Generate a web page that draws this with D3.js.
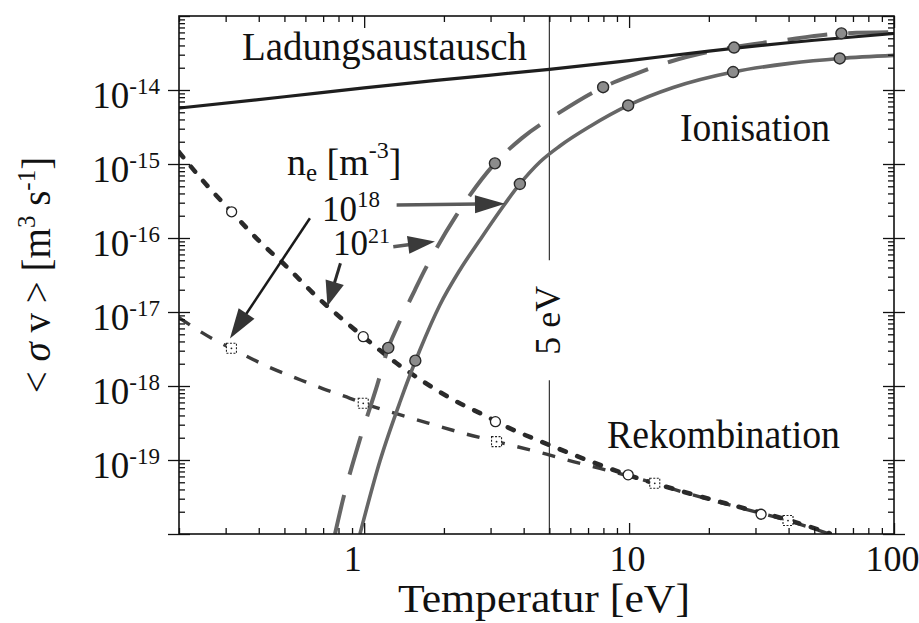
<!DOCTYPE html>
<html>
<head>
<meta charset="utf-8">
<script src="https://cdn.jsdelivr.net/npm/d3@7"></script>
<style>
	body { margin: 0; background: #fff; }
	svg { display: block; }
	svg text { font-family: "Liberation Serif", "LiberationSerif", "Tinos", "DejaVu Serif", "Times New Roman", "Nimbus Roman", "FreeSerif", "Noto Serif", serif; fill: #111; }
</style>
</head>
<body>
<div id="viz-holder"></div>
<script>
// Temperatur [eV] / <sigma v> [m^3 s^-1]
let cxT = [0.2, 0.5, 1, 2, 5, 10, 20, 50, 100];
let cxV = [5.7e-15, 8.1e-15, 1.07e-14, 1.38e-14, 1.9e-14, 2.5e-14, 3.35e-14, 4.7e-14, 5.8e-14];

// Ionisation, n_e = 1e18 (solid) and 1e21 (dashed)
let ion18T = [0.964, 1.147, 1.365, 1.623, 1.931, 2.298, 2.734, 3.253, 3.87, 4.606, 5.48, 7.11, 9.92, 14.67, 24.7, 40.4, 62.4, 100];
let ion18V = [1e-20, 9.7e-20, 6.08e-19, 3.06e-18, 1.245e-17, 3.7e-17, 9.4e-17, 2.32e-16, 5.37e-16, 1.064e-15, 1.75e-15, 3.21e-15, 6.18e-15, 1.08e-14, 1.75e-14, 2.29e-14, 2.67e-14, 2.94e-14];
let ion21T = [0.776, 0.834, 0.958, 1.12, 1.233, 1.326, 1.554, 1.681, 2.234, 3.115, 3.929, 5.40, 7.98, 10.36, 14.25, 23.3, 37.1, 64.2, 100];
let ion21V = [1e-20, 3.03e-20, 1.77e-19, 1.03e-18, 3.27e-18, 6.03e-18, 1.98e-17, 3.51e-17, 2.05e-16, 1.02e-15, 2.22e-15, 4.84e-15, 1.09e-14, 1.6e-14, 2.41e-14, 3.66e-14, 4.64e-14, 5.83e-14, 6.03e-14];

// Rekombination, n_e = 1e21 (circles) and 1e18 (squares)
let rec21T = [0.2, 0.2543, 0.316, 0.404, 0.51, 0.652, 0.834, 0.992, 1.326, 1.696, 2.17, 2.775, 3.55, 4.99, 6.43, 9.92, 16, 25.8, 39.8, 57.2];
let rec21V = [1.45e-15, 5.2e-16, 2.26e-16, 8.9e-17, 4.1e-17, 1.7e-17, 7.8e-18, 4.64e-18, 2.03e-18, 1.11e-18, 6.5e-19, 4.19e-19, 2.68e-19, 1.6e-19, 1.11e-19, 6.27e-20, 3.73e-20, 2.34e-20, 1.55e-20, 1.02e-20];
let rec18T = [0.2, 0.2694, 0.3155, 0.4285, 0.556, 0.7008, 0.884, 0.992, 1.445, 1.85, 2.365, 3.16, 4.88, 6.15, 7.76, 9.92, 12.5, 16, 25.8, 39.8, 57.2];
let rec18V = [8.4e-18, 4.3e-18, 3.23e-18, 1.86e-18, 1.27e-18, 9.16e-19, 6.82e-19, 5.84e-19, 3.85e-19, 2.97e-19, 2.3e-19, 1.77e-19, 1.2e-19, 9.5e-20, 7.7e-20, 6.1e-20, 4.84e-20, 3.68e-20, 2.3e-20, 1.52e-20, 1.0e-20];

// markers along the curves
let ion18MarkT = [1.56, 3.87, 9.92, 24.7, 62.4];
let ion18MarkV = [2.2e-18, 5.37e-16, 6.18e-15, 1.75e-14, 2.67e-14];
let ion21MarkT = [1.233, 3.115, 7.98, 24.9, 63.3];
let ion21MarkV = [3.27e-18, 1.02e-15, 1.09e-14, 3.75e-14, 5.83e-14];
let rec21MarkT = [0.316, 0.992, 3.13, 9.92, 31.5];
let rec21MarkV = [2.26e-16, 4.64e-18, 3.3e-19, 6.3e-20, 1.85e-20];
let rec18MarkT = [0.3155, 0.992, 3.16, 12.5, 39.8];
let rec18MarkV = [3.23e-18, 5.84e-19, 1.77e-19, 4.84e-20, 1.52e-20];

// axis labels
let xLabelTicks = [1, 10, 100];
let yLabelTicks = [1e-14, 1e-15, 1e-16, 1e-17, 1e-18, 1e-19];

// 5 eV marker line, gap in the line where the label sits
let lineT = 5;
let lineGap = [5e-17, 1.2e-18];

// density arrows: [T, v] start -> [T, v] tip
let arrows = [
	{ from: [1.326, 2.79e-16], to: [3.40, 2.9e-16], line: '#5a5a5a', head: '#3a3a3a', lw: 3.5, hl: 30, hw: 9 },
	{ from: [1.288, 7.62e-17], to: [1.85, 9.0e-17], line: '#5a5a5a', head: '#3a3a3a', lw: 3.5, hl: 27, hw: 9 },
	{ from: [0.8136, 4.55e-17], to: [0.7267, 1.2e-17], line: '#2a2a2a', head: '#3a3a3a', lw: 3, hl: 25, hw: 9.5 },
	{ from: [0.624, 1.85e-16], to: [0.3114, 4.4e-18], line: '#1a1a1a', head: '#333', lw: 2.5, hl: 30, hw: 9.5 }
];

let width = 919, height = 623;

let svg = d3.select('#viz-holder')
	.append('svg')
	.attr('width', width)
	.attr('height', height)
	.style('background', '#fff');

let x = d3.scaleLog().domain([0.2, 100]).range([179, 894]);
let y = d3.scaleLog().domain([1e-20, 1e-13]).range([534, 16]);

let x0 = x.range()[0], x1 = x.range()[1];
let yTop = y.range()[1], yBot = y.range()[0];

svg.append('clipPath').attr('id', 'plotClip')
	.append('rect')
	.attr('x', x0).attr('y', yTop)
	.attr('width', x1 - x0).attr('height', yBot - yTop);

function pairs(T, V) { return T.map((t, i) => [t, V[i]]); }

let line = d3.line()
	.x(d => x(d[0]))
	.y(d => y(d[1]))
	.curve(d3.curveMonotoneX);

// 5 eV line
let vline = svg.append('g').attr('stroke', '#222').attr('stroke-width', 1.1);
vline.append('line')
	.attr('x1', x(lineT)).attr('x2', x(lineT))
	.attr('y1', yTop).attr('y2', y(lineGap[0]));
vline.append('line')
	.attr('x1', x(lineT)).attr('x2', x(lineT))
	.attr('y1', y(lineGap[1])).attr('y2', yBot);

let curves = svg.append('g').attr('clip-path', 'url(#plotClip)').attr('fill', 'none');

curves.append('path')
	.attr('d', line(pairs(rec18T, rec18V)))
	.attr('stroke', '#3c3c3c')
	.attr('stroke-width', 3.4)
	.attr('stroke-dasharray', '13,13');

curves.append('path')
	.attr('d', line(pairs(rec21T, rec21V)))
	.attr('stroke', '#2a2a2a')
	.attr('stroke-width', 4.6)
	.attr('stroke-linecap', 'round')
	.attr('stroke-dasharray', '6.5,12.3');

curves.append('path')
	.attr('d', line(pairs(ion21T, ion21V)))
	.attr('stroke', '#666')
	.attr('stroke-width', 4)
	.attr('stroke-dasharray', '40,21');

curves.append('path')
	.attr('d', line(pairs(ion18T, ion18V)))
	.attr('stroke', '#666')
	.attr('stroke-width', 3.6);

curves.append('path')
	.attr('d', line(pairs(cxT, cxV)))
	.attr('stroke', '#1e1e1e')
	.attr('stroke-width', 3.2);

// markers
let marks = svg.append('g');

marks.selectAll('.ionMark')
	.data(pairs(ion18MarkT, ion18MarkV).concat(pairs(ion21MarkT, ion21MarkV)))
	.enter()
	.append('circle')
	.attr('class', 'ionMark')
	.attr('cx', d => x(d[0]))
	.attr('cy', d => y(d[1]))
	.attr('r', 5.5)
	.attr('fill', '#8c8c8c')
	.attr('stroke', '#2a2a2a')
	.attr('stroke-width', 1.4);

marks.selectAll('.recCircle')
	.data(pairs(rec21MarkT, rec21MarkV))
	.enter()
	.append('circle')
	.attr('class', 'recCircle')
	.attr('cx', d => x(d[0]))
	.attr('cy', d => y(d[1]))
	.attr('r', 5)
	.attr('fill', '#fff')
	.attr('stroke', '#222')
	.attr('stroke-width', 1.3);

let sq = marks.selectAll('.recSquare')
	.data(pairs(rec18MarkT, rec18MarkV))
	.enter()
	.append('g')
	.attr('class', 'recSquare')
	.attr('transform', d => `translate(${x(d[0])},${y(d[1])})`);
sq.append('rect')
	.attr('x', -5).attr('y', -5).attr('width', 10).attr('height', 10)
	.attr('fill', '#fff')
	.attr('stroke', '#222')
	.attr('stroke-width', 1.1)
	.attr('stroke-dasharray', '2,1.5');
sq.append('circle').attr('r', 0.9).attr('fill', '#222');

// arrows
let arrowG = svg.append('g');
arrows.forEach(a => {
	let ax0 = x(a.from[0]), ay0 = y(a.from[1]);
	let ax1 = x(a.to[0]), ay1 = y(a.to[1]);
	let ang = Math.atan2(ay1 - ay0, ax1 - ax0);
	let bx = ax1 - a.hl * Math.cos(ang), by = ay1 - a.hl * Math.sin(ang);
	arrowG.append('line')
		.attr('x1', ax0).attr('y1', ay0)
		.attr('x2', bx + 4 * Math.cos(ang)).attr('y2', by + 4 * Math.sin(ang))
		.attr('stroke', a.line)
		.attr('stroke-width', a.lw);
	arrowG.append('path')
		.attr('d', `M${ax1},${ay1}L${bx + a.hw * Math.sin(ang)},${by - a.hw * Math.cos(ang)}L${bx - a.hw * Math.sin(ang)},${by + a.hw * Math.cos(ang)}Z`)
		.attr('fill', a.head);
});

// axes
function tickStyle(g) {
	g.select('.domain').remove();
	g.selectAll('.tick line').attr('stroke', '#111').attr('stroke-width', 1.3);
	g.selectAll('.tick text').remove();
}

let xMajor = xLabelTicks;
let xMinor = x.ticks().filter(d => !xMajor.includes(d));
let yAll = y.ticks();
let yMajor = yAll.filter(d => Math.abs(Math.log10(d) - Math.round(Math.log10(d))) < 1e-6);
let yMinor = yAll.filter(d => !yMajor.includes(d));
let yOut = yMajor.filter(d => d < 1e-13);

// bottom
svg.append('g').attr('transform', `translate(0,${yBot})`)
	.call(d3.axisTop(x).tickValues(xMinor).tickSize(6)).call(tickStyle);
svg.append('g').attr('transform', `translate(0,${yBot})`)
	.call(d3.axisTop(x).tickValues(xMajor).tickSize(11)).call(tickStyle);
// top
svg.append('g').attr('transform', `translate(0,${yTop})`)
	.call(d3.axisBottom(x).tickValues(xMinor).tickSize(6)).call(tickStyle);
svg.append('g').attr('transform', `translate(0,${yTop})`)
	.call(d3.axisBottom(x).tickValues(xMajor).tickSize(12)).call(tickStyle);
// left
svg.append('g').attr('transform', `translate(${x0},0)`)
	.call(d3.axisRight(y).tickValues(yMinor).tickSize(6)).call(tickStyle);
svg.append('g').attr('transform', `translate(${x0},0)`)
	.call(d3.axisRight(y).tickValues(yMajor).tickSize(11)).call(tickStyle);
svg.append('g').attr('transform', `translate(${x0},0)`)
	.call(d3.axisLeft(y).tickValues(yOut).tickSize(11)).call(tickStyle);
// right
svg.append('g').attr('transform', `translate(${x1},0)`)
	.call(d3.axisLeft(y).tickValues(yMinor).tickSize(6)).call(tickStyle);
svg.append('g').attr('transform', `translate(${x1},0)`)
	.call(d3.axisLeft(y).tickValues(yMajor).tickSize(11)).call(tickStyle);
svg.append('g').attr('transform', `translate(${x1},0)`)
	.call(d3.axisRight(y).tickValues(yOut).tickSize(11)).call(tickStyle);

svg.append('rect')
	.attr('x', x0).attr('y', yTop)
	.attr('width', x1 - x0).attr('height', yBot - yTop)
	.attr('fill', 'none')
	.attr('stroke', '#111')
	.attr('stroke-width', 1.6);

// x tick labels
let xLab = svg.append('g').attr('transform', `translate(0,${yBot})`)
	.call(d3.axisBottom(x).tickValues(xLabelTicks).tickSize(0).tickPadding(11).tickFormat(d3.format('d')));
xLab.select('.domain').remove();
xLab.selectAll('.tick text')
	.attr('font-size', 36)
	.attr('dx', d => d === 1 ? -12 : -2);

// y tick labels with superscript exponent
let yLab = svg.append('g').attr('transform', `translate(${x0},0)`)
	.call(d3.axisLeft(y).tickValues(yLabelTicks).tickSize(0).tickFormat(''));
yLab.select('.domain').remove();
yLab.selectAll('.tick text').remove();
yLab.selectAll('.tick')
	.append('text')
	.attr('x', -19)
	.attr('y', 17)
	.attr('text-anchor', 'end')
	.attr('font-size', 37)
	.each(function (d) {
		let t = d3.select(this);
		t.append('tspan').text('10');
		t.append('tspan').attr('dy', -14).attr('font-size', 23).text(Math.round(Math.log10(d)));
	});

// texts
let txt = svg.append('g');

txt.append('text')
	.attr('x', 242).attr('y', 60)
	.attr('font-size', 40)
	.attr('textLength', 285).attr('lengthAdjust', 'spacingAndGlyphs')
	.text('Ladungsaustausch');

txt.append('text')
	.attr('x', 680).attr('y', 141)
	.attr('font-size', 40)
	.attr('textLength', 150).attr('lengthAdjust', 'spacingAndGlyphs')
	.text('Ionisation');

txt.append('text')
	.attr('x', 607).attr('y', 448)
	.attr('font-size', 40)
	.attr('textLength', 233).attr('lengthAdjust', 'spacingAndGlyphs')
	.text('Rekombination');

txt.append('text')
	.attr('x', 398).attr('y', 612)
	.attr('font-size', 39)
	.attr('textLength', 292).attr('lengthAdjust', 'spacingAndGlyphs')
	.text('Temperatur [eV]');

let ne = txt.append('text').attr('x', 287).attr('y', 175).attr('font-size', 38);
ne.append('tspan').text('n');
ne.append('tspan').attr('font-size', 25).attr('dy', 6).text('e');
ne.append('tspan').attr('dy', -6).text(' [m');
ne.append('tspan').attr('font-size', 24).attr('dy', -17).text('-3');
ne.append('tspan').attr('dy', 17).text(']');

let n18 = txt.append('text').attr('x', 322).attr('y', 221).attr('font-size', 35);
n18.append('tspan').text('10');
n18.append('tspan').attr('font-size', 23).attr('dy', -14).text('18');

let n21 = txt.append('text').attr('x', 333).attr('y', 255).attr('font-size', 35);
n21.append('tspan').text('10');
n21.append('tspan').attr('font-size', 22).attr('dy', -12).text('21');

txt.append('text')
	.attr('transform', `translate(${x(lineT) + 11},${(y(lineGap[0]) + y(lineGap[1])) / 2}) rotate(-90)`)
	.attr('text-anchor', 'middle')
	.attr('font-size', 36)
	.text('5 eV');

let yt = txt.append('text')
	.attr('transform', 'translate(50,275) rotate(-90)')
	.attr('text-anchor', 'middle')
	.attr('font-size', 39);
yt.append('tspan').text('< ');
yt.append('tspan').attr('font-style', 'italic').text('σ');
yt.append('tspan').text(' v >  [m');
yt.append('tspan').attr('font-size', 25).attr('dy', -15).text('3');
yt.append('tspan').attr('dy', 15).text(' s');
yt.append('tspan').attr('font-size', 25).attr('dy', -15).text('-1');
yt.append('tspan').attr('dy', 15).text(']');
</script>
</body>
</html>
